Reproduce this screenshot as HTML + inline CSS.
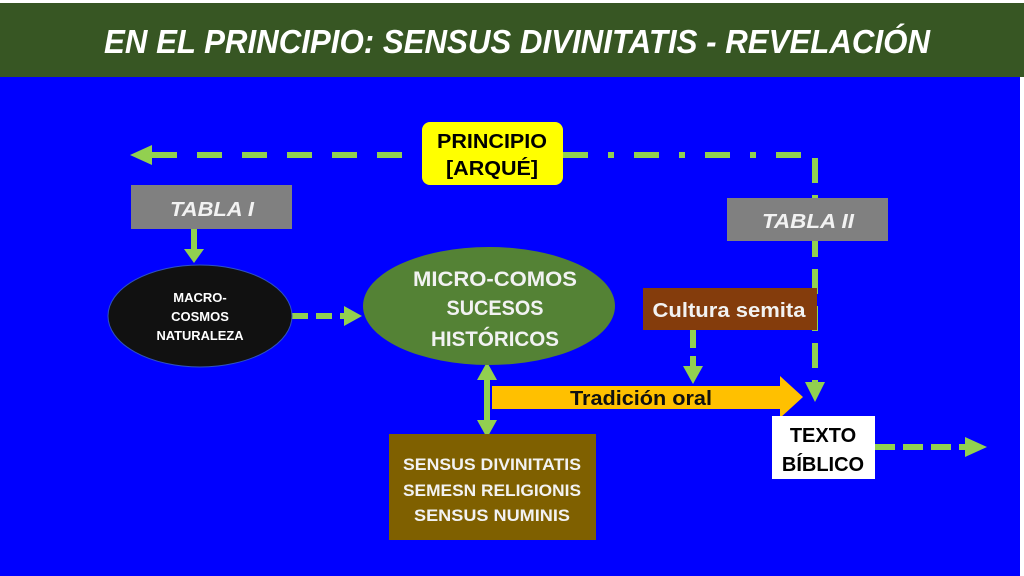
<!DOCTYPE html>
<html><head><meta charset="utf-8"><style>
html,body{margin:0;padding:0;background:#fff;}
svg{display:block;}
text{font-family:"Liberation Sans",sans-serif;font-weight:bold;}
</style></head><body>
<svg width="1024" height="576" viewBox="0 0 1024 576" xmlns="http://www.w3.org/2000/svg">
<rect x="0" y="0" width="1024" height="576" fill="#fff"/>
<rect x="0" y="3" width="1024" height="74" fill="#375623"/>
<rect x="0" y="77" width="1020" height="499" fill="#0000ff"/>
<text x="517" y="53" font-size="33" font-style="italic" fill="#fff" text-anchor="middle" textLength="826" lengthAdjust="spacingAndGlyphs">EN EL PRINCIPIO: SENSUS DIVINITATIS - REVELACIÓN</text>

<g stroke="#92d050" stroke-width="6" fill="none">
<line x1="152" y1="155" x2="422" y2="155" stroke-dasharray="25 20"/>
<line x1="563" y1="155" x2="812" y2="155" stroke-dasharray="25 20 6 20"/>
<line x1="815" y1="158" x2="815" y2="385" stroke-dasharray="25 12"/>
<line x1="194" y1="229" x2="194" y2="250"/>
<line x1="292" y1="316" x2="346" y2="316" stroke-dasharray="16 8"/>
<line x1="487" y1="378" x2="487" y2="422"/>
<line x1="693" y1="330" x2="693" y2="368" stroke-dasharray="18 8"/>
<line x1="875" y1="447" x2="967" y2="447" stroke-dasharray="20 8"/>
</g>
<g fill="#92d050">
<polygon points="130,155 152,145 152,165"/>
<polygon points="184,249 204,249 194,263"/>
<polygon points="344,306 362,316 344,326"/>
<polygon points="477,380 497,380 487,362"/>
<polygon points="477,420 497,420 487,438"/>
<polygon points="683,366 703,366 693,384"/>
<polygon points="805,382 825,382 815,402"/>
<polygon points="965,437 987,447 965,457"/>
</g>

<rect x="422" y="122" width="141" height="63" rx="8" fill="#ffff00"/>
<text x="492" y="148" font-size="20" fill="#000" text-anchor="middle" textLength="110" lengthAdjust="spacingAndGlyphs">PRINCIPIO</text>
<text x="492" y="175" font-size="20" fill="#000" text-anchor="middle" textLength="92" lengthAdjust="spacingAndGlyphs">[ARQUÉ]</text>

<rect x="131" y="185" width="161" height="44" fill="#808080"/>
<text x="212" y="216" font-size="20" font-style="italic" fill="#f2f2f2" text-anchor="middle" textLength="84" lengthAdjust="spacingAndGlyphs">TABLA  I</text>

<rect x="727" y="198" width="161" height="43" fill="#808080"/>
<text x="808" y="228" font-size="20" font-style="italic" fill="#f2f2f2" text-anchor="middle" textLength="92" lengthAdjust="spacingAndGlyphs">TABLA  II</text>

<ellipse cx="200" cy="316" rx="92" ry="51" fill="#111" stroke="#2f52c0" stroke-width="1"/>
<text x="200" y="302" font-size="13" fill="#fff" text-anchor="middle">MACRO-</text>
<text x="200" y="321" font-size="13" fill="#fff" text-anchor="middle">COSMOS</text>
<text x="200" y="340" font-size="13" fill="#fff" text-anchor="middle" textLength="87" lengthAdjust="spacingAndGlyphs">NATURALEZA</text>

<ellipse cx="489" cy="306" rx="126" ry="59" fill="#548235"/>
<text x="495" y="286" font-size="21" fill="#f2f2f2" text-anchor="middle" textLength="164" lengthAdjust="spacingAndGlyphs">MICRO-COMOS</text>
<text x="495" y="315" font-size="21" fill="#f2f2f2" text-anchor="middle" textLength="97" lengthAdjust="spacingAndGlyphs">SUCESOS</text>
<text x="495" y="346" font-size="21" fill="#f2f2f2" text-anchor="middle" textLength="128" lengthAdjust="spacingAndGlyphs">HISTÓRICOS</text>

<rect x="643" y="288" width="174" height="42" fill="#843c0c"/>
<text x="729" y="317" font-size="20" fill="#f2f2f2" text-anchor="middle" textLength="153" lengthAdjust="spacingAndGlyphs">Cultura semita</text>

<polygon points="492,386 780,386 780,376 803,397 780,418 780,409 492,409" fill="#ffc000"/>
<text x="641" y="405" font-size="20" fill="#111" text-anchor="middle" textLength="142" lengthAdjust="spacingAndGlyphs">Tradición oral</text>

<rect x="389" y="434" width="207" height="106" fill="#7f6000"/>
<text x="492" y="470" font-size="17" fill="#f2f2f2" text-anchor="middle" textLength="178" lengthAdjust="spacingAndGlyphs">SENSUS DIVINITATIS</text>
<text x="492" y="496" font-size="17" fill="#f2f2f2" text-anchor="middle" textLength="178" lengthAdjust="spacingAndGlyphs">SEMESN RELIGIONIS</text>
<text x="492" y="521" font-size="17" fill="#f2f2f2" text-anchor="middle" textLength="156" lengthAdjust="spacingAndGlyphs">SENSUS NUMINIS</text>

<rect x="772" y="416" width="103" height="63" fill="#fff"/>
<text x="823" y="442" font-size="20" fill="#000" text-anchor="middle">TEXTO</text>
<text x="823" y="471" font-size="20" fill="#000" text-anchor="middle">BÍBLICO</text>
</svg>
</body></html>
